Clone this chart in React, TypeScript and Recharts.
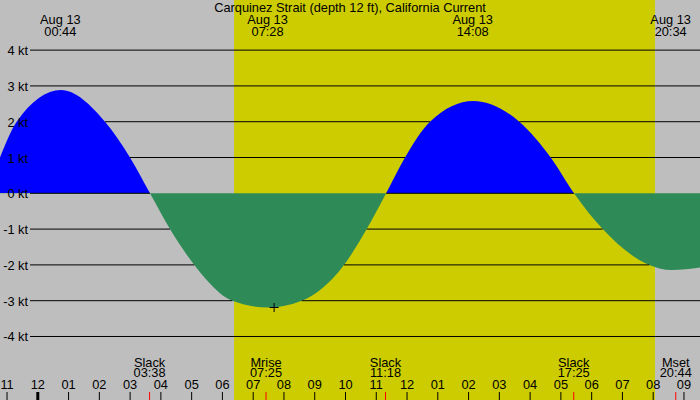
import React from 'react';
import { ComposedChart, Area, XAxis, YAxis, ReferenceArea, ReferenceLine, ReferenceDot } from 'recharts';

// ---------- data ----------
const TITLE = 'Carquinez Strait (depth 12 ft), California Current';
const DATE_LABEL = 'Aug 13';

// hours since midnight Aug 13
const TIMES = [
  -1.2285, -0.686, 0.754, 2.184, 2.996, 3.646, 4.296, 5.086, 6.321, 7.48, 8.577,
  9.951, 10.689, 11.32, 11.934, 12.746, 14.153, 15.648, 16.669, 17.426, 18.36,
  19.87, 20.6, 21.521,
];
// current speed, knots (flood +, ebb -)
const SPEEDS = [
  1.0, 2.0, 2.885, 2.0, 1.0, 0, -1, -2, -3, -3.19, -3, -2, -1, 0, 1, 2, 2.58, 2, 1,
  0, -1, -2, -2.14, -2.07,
];

const EXTREMA_TIMES = [0.733, 7.467, 14.133, 20.567];
const EXTREMA_LABELS = ['00:44', '07:28', '14:08', '20:34'];

const EVENT_TIMES = [3.633, 7.417, 11.3, 17.417, 20.733];
const EVENT_NAMES = ['Slack', 'Mrise', 'Slack', 'Slack', 'Mset'];
const EVENT_LABELS = ['03:38', '07:25', '11:18', '17:25', '20:44'];

const HOURS = [-1, 0, 1, 2, 3, 4, 5, 6, 7, 8, 9, 10, 11, 12, 13, 14, 15, 16, 17, 18, 19, 20, 21];
const HOUR_LABELS = [
  '11', '12', '01', '02', '03', '04', '05', '06', '07', '08', '09', '10', '11', '12',
  '01', '02', '03', '04', '05', '06', '07', '08', '09',
];
const MIDNIGHT = 0;

const KT_LEVELS = [4, 3, 2, 1, 0, -1, -2, -3, -4];
const KT_LABELS = ['4 kt', '3 kt', '2 kt', '1 kt', '0 kt', '-1 kt', '-2 kt', '-3 kt', '-4 kt'];

const SUNRISE = 6.377;
const SUNSET = 20.058;

const MARKER_TIME = 7.68;
const MARKER_SPEED = -3.19;

// ---------- layout ----------
const W = 700;
const H = 400;
const X_MIN = -1.2285;
const X_MAX = 21.521;
const Y_MIN = -5.774;
const Y_MAX = 5.4;
const LINE_START = -0.253;
const FONT = '"Liberation Sans", Arial, Helvetica, sans-serif';
const BG = '#BEBEBE';
const DAY = '#CCCC00';
const FLOOD = '#0000FF';
const EBB = '#2E8B57';

const data = TIMES.map((h, i) => ({ h, v: SPEEDS[i] }));
const zeroFrac = Y_MAX / (Y_MAX - Y_MIN);

// parts of a knot line that are not covered by the current fill
function visibleSegments(k: number): [number, number][] {
  const hidden: [number, number][] = [];
  for (let i = 0; i < TIMES.length - 1; i++) {
    const a = SPEEDS[i];
    const b = SPEEDS[i + 1];
    const inside =
      k > 0
        ? Math.min(a, b) >= k && Math.max(a, b) > k
        : Math.max(a, b) <= k && Math.min(a, b) < k;
    if (inside) hidden.push([TIMES[i], TIMES[i + 1]]);
  }
  const segs: [number, number][] = [];
  let cur = LINE_START;
  for (const [s, e] of hidden) {
    if (e <= cur) continue;
    if (s > cur) segs.push([cur, s]);
    cur = Math.max(cur, e);
  }
  if (cur < X_MAX) segs.push([cur, X_MAX]);
  return segs;
}

const txt = {
  fontFamily: FONT,
  fontSize: 12.8,
  fill: '#000',
};

export default function App() {
  return (
    <div style={{ position: 'absolute', left: 0, top: 0, width: W, height: H, background: BG }}>
      <ComposedChart width={W} height={H} data={data} margin={{ top: 0, right: 0, bottom: 0, left: 0 }}>
        <defs>
          <linearGradient id="splitFill" gradientUnits="userSpaceOnUse" x1="0" y1="0" x2="0" y2={H}>
            <stop offset={zeroFrac} stopColor={FLOOD} />
            <stop offset={zeroFrac} stopColor={EBB} />
          </linearGradient>
        </defs>
        <XAxis dataKey="h" type="number" domain={[X_MIN, X_MAX]} allowDataOverflow hide />
        <YAxis type="number" domain={[Y_MIN, Y_MAX]} allowDataOverflow hide />
        <ReferenceArea
          x1={SUNRISE}
          x2={SUNSET}
          y1={Y_MIN}
          y2={Y_MAX}
          fill={DAY}
          fillOpacity={1}
          stroke="none"
          ifOverflow="visible"
        />
        <Area
          type="monotone"
          dataKey="v"
          baseValue={0}
          stroke="none"
          fill="url(#splitFill)"
          fillOpacity={1}
          isAnimationActive={false}
          dot={false}
          activeDot={false}
        />
        {KT_LEVELS.flatMap((k) =>
          visibleSegments(k).map(([s, e], j) => (
            <ReferenceLine
              key={'l' + k + '_' + j}
              segment={[
                { x: s, y: k },
                { x: e, y: k },
              ]}
              stroke="#000"
              strokeWidth={1}
              ifOverflow="visible"
            />
          ))
        )}
        {KT_LEVELS.map((k, i) => (
          <ReferenceDot
            key={'kl' + k}
            x={LINE_START}
            y={k}
            ifOverflow="visible"
            shape={(p: any) => (
              <text x={p.cx - 2} y={p.cy + 5} textAnchor="end" style={txt}>
                {KT_LABELS[i]}
              </text>
            )}
          />
        ))}
        <ReferenceDot
          x={(X_MIN + X_MAX) / 2}
          y={Y_MAX}
          ifOverflow="visible"
          shape={(p: any) => (
            <text x={p.cx} y={p.cy + 12} textAnchor="middle" style={txt}>
              {TITLE}
            </text>
          )}
        />
        {EXTREMA_TIMES.map((t, i) => (
          <ReferenceDot
            key={'ex' + i}
            x={t}
            y={Y_MAX}
            ifOverflow="visible"
            shape={(p: any) => (
              <g>
                <text x={p.cx} y={p.cy + 24} textAnchor="middle" style={txt}>
                  {DATE_LABEL}
                </text>
                <text x={p.cx} y={p.cy + 36} textAnchor="middle" style={txt}>
                  {EXTREMA_LABELS[i]}
                </text>
              </g>
            )}
          />
        ))}
        {HOURS.map((hr, i) => (
          <ReferenceDot
            key={'hr' + i}
            x={hr}
            y={Y_MIN}
            ifOverflow="visible"
            shape={(p: any) => (
              <g>
                <text x={p.cx} y={p.cy - 11} textAnchor="middle" style={txt}>
                  {HOUR_LABELS[i]}
                </text>
                <line
                  x1={p.cx}
                  x2={p.cx}
                  y1={p.cy - 8}
                  y2={p.cy}
                  stroke="#000"
                  strokeWidth={hr === MIDNIGHT ? 3 : 1}
                />
              </g>
            )}
          />
        ))}
        {EVENT_TIMES.map((t, i) => (
          <ReferenceDot
            key={'ev' + i}
            x={t}
            y={Y_MIN}
            ifOverflow="visible"
            shape={(p: any) => (
              <g>
                <text x={p.cx} y={p.cy - 33} textAnchor="middle" style={txt}>
                  {EVENT_NAMES[i]}
                </text>
                <text x={p.cx} y={p.cy - 23} textAnchor="middle" style={txt}>
                  {EVENT_LABELS[i]}
                </text>
                <line x1={p.cx} x2={p.cx} y1={p.cy - 8} y2={p.cy} stroke="#FF0000" strokeWidth={1} />
              </g>
            )}
          />
        ))}
        <ReferenceDot
          x={MARKER_TIME}
          y={MARKER_SPEED}
          ifOverflow="visible"
          shape={(p: any) => (
            <path
              d={`M${p.cx - 4.5},${p.cy}H${p.cx + 4.5}M${p.cx},${p.cy - 4.5}V${p.cy + 4.5}`}
              stroke="#000"
              strokeWidth={1}
              fill="none"
            />
          )}
        />
      </ComposedChart>
    </div>
  );
}
